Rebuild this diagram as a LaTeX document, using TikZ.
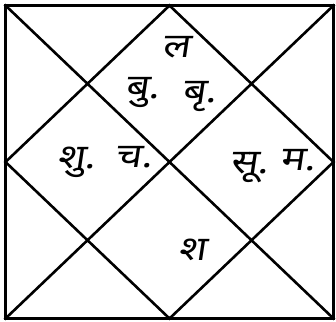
\documentclass[tikz,border=0pt]{standalone}
\usepackage{fontspec}
\newfontfamily\devfont[Script=Devanagari,FakeSlant=0.15,FakeStretch=1.2]{Noto Sans}
\begin{document}
\begin{tikzpicture}[x=1pt,y=-1pt,
  chartline/.style={line width=2.6pt,line cap=rect},
  lbl/.style={font=\devfont\fontsize{34}{38}\selectfont,inner sep=0pt,anchor=base west}]
\useasboundingbox (0,0) rectangle (336,321);
\coordinate (tl) at (5.5,5.5);
\coordinate (tr) at (333.5,5.5);
\coordinate (br) at (333.5,318.5);
\coordinate (bl) at (5.5,318.5);
\coordinate (tm) at (169.5,5.5);
\coordinate (rm) at (333.5,162);
\coordinate (bm) at (169.5,318.5);
\coordinate (lm) at (5.5,162);
\draw[chartline] (tl) -- (tr) -- (br) -- (bl) -- cycle;
\draw[chartline] (tl) -- (br);
\draw[chartline] (tr) -- (bl);
\draw[chartline] (tm) -- (rm) -- (bm) -- (lm) -- cycle;
\node[lbl] (la) at (162,57) {ल};
\node[lbl] (bu) at (125,98) {बु.};
\node[lbl] (bri) at (182,102) {बृ.};
\node[lbl] (shu) at (57,168) {शु.};
\node[lbl] (cha) at (115,167) {च.};
\node[lbl] (su) at (230,173) {सू.};
\node[lbl] (ma) at (280,170) {म.};
\node[lbl] (sha) at (178,260) {श};
\end{tikzpicture}
\end{document}
